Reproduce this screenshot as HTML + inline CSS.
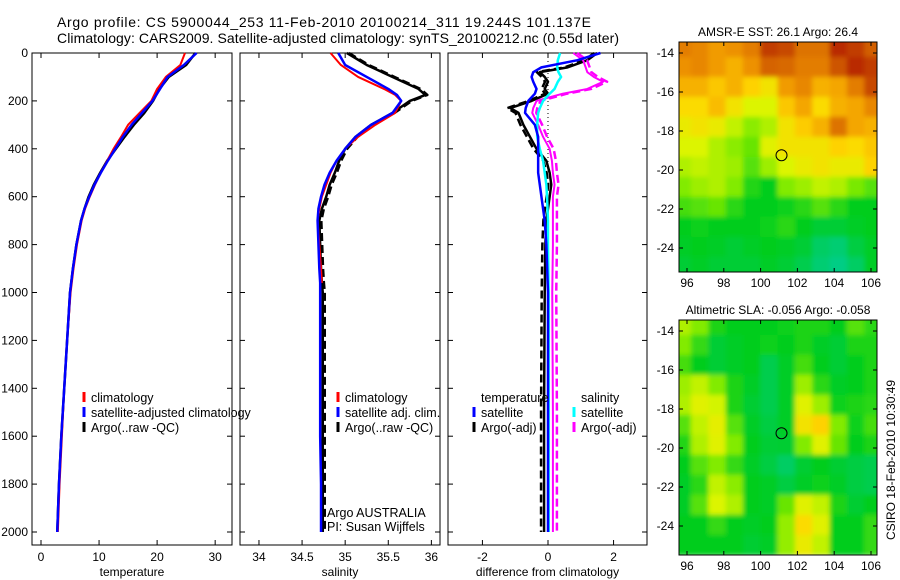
<!DOCTYPE html>
<html><head><meta charset="utf-8"><title>Argo profile</title>
<style>
html,body{margin:0;padding:0;background:#fff;}
svg{display:block;font-family:"Liberation Sans",sans-serif;}
text{font-size:12px;fill:#000;}
</style></head>
<body>
<svg id="fig" width="900" height="580" viewBox="0 0 900 580" xmlns="http://www.w3.org/2000/svg">
<defs>
<filter id="blur" x="-5%" y="-5%" width="110%" height="110%"><feGaussianBlur stdDeviation="2.5"/></filter>
<clipPath id="clip1"><rect x="679" y="42" width="198" height="230"/></clipPath>
<clipPath id="clip2"><rect x="679" y="320" width="198" height="235"/></clipPath>
</defs>
<text x="57" y="27" style="font-size:14px" textLength="534">Argo profile: CS 5900044_253 11-Feb-2010 20100214_311 19.244S 101.137E</text>
<text x="57" y="43" style="font-size:14px" textLength="562">Climatology: CARS2009. Satellite-adjusted climatology: synTS_20100212.nc (0.55d later)</text>
<g id="plots"></g>
<text transform="translate(895,460) rotate(-90)" text-anchor="middle">CSIRO 18-Feb-2010 10:30:49</text>
</svg>
<script>
// ---------- DATA ----------
const depths = [0,50,100,150,200,250,300,350,400,450,500,550,600,650,700,800,900,1000,1200,1400,1600,1800,2000];
const tempClim = [24.8,24.0,21.5,20.0,19.0,17.0,15.0,13.8,12.5,11.4,10.3,9.3,8.4,7.6,7.0,6.2,5.6,5.1,4.5,4.0,3.6,3.2,2.9];
const tempSat  = [26.8,24.6,21.8,20.5,19.2,17.4,15.6,14.1,12.8,11.5,10.3,9.2,8.3,7.5,6.9,6.1,5.5,5.0,4.5,4.0,3.5,3.1,2.8];
const tempArgo = [26.6,25.0,22.0,20.4,19.3,17.8,16.0,14.4,12.9,11.4,10.2,9.1,8.2,7.5,6.9,6.1,5.5,5.0,4.5,4.0,3.5,3.1,2.8];
const salDepths = [0,50,100,150,175,200,250,300,350,400,450,500,550,600,650,700,800,900,960,1000,1200,1400,1600,1800,2000];
const salClim = [34.83,34.95,35.15,35.45,35.58,35.65,35.58,35.35,35.15,35.0,34.9,34.83,34.78,34.73,34.70,34.68,34.70,34.72,34.73,null,null,null,null,null,null];
const salSat  = [34.92,35.0,35.25,35.5,35.6,35.65,35.55,35.3,35.12,35.0,34.9,34.82,34.76,34.72,34.69,34.68,34.69,34.70,34.71,34.71,34.71,34.71,34.71,34.72,34.72];
const salArgo = [35.02,35.25,35.55,35.85,35.93,35.75,35.55,35.3,35.12,35.0,34.93,34.88,34.82,34.78,34.73,34.70,34.71,34.72,34.73,34.74,34.74,34.74,34.74,34.74,34.74];
const diffDepths = [0,30,60,80,100,120,150,170,200,230,250,300,350,400,450,500,550,600,700,800,1000,1500,2000];
const dTempSat  = [1.6,0.9,-0.2,-0.45,-0.5,-0.45,-0.35,-0.4,-0.6,-0.68,-0.7,-0.4,-0.3,-0.3,-0.3,-0.3,-0.25,-0.2,-0.1,-0.05,0,0,0.0];
const dTempArgo = [1.5,1.2,0.6,-0.25,-0.1,0.0,-0.1,0.0,-0.5,-1.15,-0.9,-0.75,-0.55,-0.35,-0.05,0.05,0.1,0.05,-0.05,-0.08,-0.1,-0.12,-0.12];
const dSalSat   = [0.37,0.3,0.28,0.32,0.4,0.3,0.2,0.05,-0.15,-0.25,-0.3,-0.33,-0.33,-0.25,-0.15,-0.1,-0.05,-0.03,0,0,0.02,0.02,0.02];
const dSalArgo  = [0.77,1.07,1.15,1.2,1.4,1.68,1.2,0.45,-0.35,-0.45,-0.48,-0.3,-0.15,0.05,0.12,0.15,0.2,0.15,0.15,0.15,0.13,0.15,0.15];
const depthTicks = [0,200,400,600,800,1000,1200,1400,1600,1800,2000];
const tempTicks = [0,10,20,30];
const salTicks = [34,34.5,35,35.5,36];
const diffTicks = [-2,0,2];
const lonTicks = [96,98,100,102,104,106];
const latTicks = [-14,-16,-18,-20,-22,-24];
const sstGrid = [
[.8,.78,.74,.76,.8,.92,.9,.82,.82,.95,.92,.86],
[.76,.78,.74,.7,.76,.85,.84,.8,.8,.88,.95,.92],
[.7,.7,.66,.7,.64,.6,.74,.78,.7,.72,.8,.9],
[.62,.62,.68,.6,.55,.55,.66,.72,.62,.7,.72,.78],
[.58,.6,.58,.52,.46,.5,.6,.65,.7,.82,.72,.7],
[.55,.55,.5,.46,.42,.56,.6,.6,.6,.64,.62,.66],
[.5,.52,.5,.48,.4,.48,.55,.58,.6,.58,.58,.64],
[.45,.48,.5,.45,.34,.3,.45,.48,.52,.5,.44,.4],
[.38,.4,.42,.35,.3,.3,.32,.35,.4,.35,.3,.3],
[.3,.32,.3,.3,.3,.32,.35,.3,.25,.25,.28,.3],
[.28,.3,.28,.25,.28,.3,.28,.25,.15,.12,.22,.28],
[.25,.28,.25,.25,.25,.28,.25,.2,.12,.08,.15,.28]];
const slaGrid = [
[.5,.45,.33,.3,.3,.3,.32,.33,.33,.3,.4,.35],
[.45,.36,.25,.28,.3,.32,.3,.33,.28,.25,.33,.33],
[.38,.3,.25,.28,.3,.2,.28,.38,.3,.25,.3,.33],
[.48,.52,.45,.33,.28,.2,.28,.48,.35,.28,.3,.33],
[.5,.56,.54,.33,.26,.2,.28,.56,.48,.32,.33,.35],
[.4,.52,.57,.4,.28,.22,.28,.6,.64,.45,.32,.38],
[.34,.5,.56,.45,.3,.25,.26,.45,.56,.42,.3,.33],
[.3,.4,.45,.36,.28,.22,.15,.26,.3,.26,.22,.2],
[.28,.35,.52,.46,.3,.28,.22,.28,.32,.28,.22,.2],
[.28,.4,.55,.5,.3,.28,.42,.56,.52,.33,.26,.3],
[.3,.3,.36,.3,.28,.3,.47,.62,.56,.3,.3,.36],
[.3,.3,.3,.3,.26,.28,.47,.58,.52,.3,.3,.36]];
const argoLon = 101.137, argoLat = -19.244;

// ---------- DRAW ----------
const NS='http://www.w3.org/2000/svg';
const root=document.getElementById('plots');
function mk(tag,attrs,parent){const e=document.createElementNS(NS,tag);for(const k in attrs)e.setAttribute(k,attrs[k]);(parent||root).appendChild(e);return e;}
const top0=53, bot=545, ppd=0.2395;
const yD = d => top0 + d*ppd;
const panels = [
 {x0:32,x1:232,v0:-1.55,v1:32.9,ticks:tempTicks,label:'temperature',name:'temperature'},
 {x0:240,x1:440,v0:33.78,v1:36.1,ticks:salTicks,label:'salinity',name:'salinity'},
 {x0:448,x1:647,v0:-3.05,v1:3.02,ticks:diffTicks,label:'difference from climatology',name:'difference'}];
panels.forEach(p=>{p.sx=v=>p.x0+(v-p.v0)/(p.v1-p.v0)*(p.x1-p.x0);});
panels.forEach((p,i)=>{
  let r=mk('rect',{x:p.x0,y:top0,width:p.x1-p.x0,height:bot-top0,fill:'none',stroke:'#000','stroke-width':1});
  
  
  p.ticks.forEach(t=>{const x=p.sx(t);
    mk('line',{x1:x,x2:x,y1:bot,y2:bot-5,stroke:'#000'});
    mk('line',{x1:x,x2:x,y1:top0,y2:top0+5,stroke:'#000'});
    const tx=mk('text',{x:x,y:561,'text-anchor':'middle'});tx.textContent=String(t);
    
    });
  depthTicks.forEach(d=>{const y=yD(d);
    mk('line',{x1:p.x0,x2:p.x0+5,y1:y,y2:y,stroke:'#000'});
    mk('line',{x1:p.x1,x2:p.x1-5,y1:y,y2:y,stroke:'#000'});
    if(i===0){const tx=mk('text',{x:28,y:y+4,'text-anchor':'end'});tx.textContent=String(d);
      
      }});
  const lab=mk('text',{x:(p.x0+p.x1)/2,y:576,'text-anchor':'middle'});lab.textContent=p.label;
  
  
});
{const p=panels[2];const l=mk('line',{x1:p.sx(0),x2:p.sx(0),y1:top0,y2:yD(500),stroke:'#000','stroke-dasharray':'1,3'});
 
 }
function series(p,ds,vals,color,w,dash,name,off){
  let pts=[];ds.forEach((d,k)=>{if(vals[k]!==null&&vals[k]!==undefined)pts.push(p.sx(vals[k])+(off||0)+','+yD(d));});
  const pl=mk('polyline',{points:pts.join(' '),fill:'none',stroke:color,'stroke-width':w,'stroke-dasharray':dash||'none','stroke-linejoin':'round'});
  
  
}
const [P1,P2,P3]=panels;
series(P1,depths,tempArgo,'#000',2.5,null,'temp-argo-line');
series(P1,depths,tempClim,'#f00',2,null,'temp-climatology-line');
series(P1,depths,tempSat,'#00f',2.5,null,'temp-satellite-line');
series(P2,salDepths,salArgo,'#000',2.5,null,'sal-argo-line');
series(P2,salDepths,salArgo,'#000',2.5,'8,4','sal-argo-raw-line',2);
series(P2,salDepths,salClim,'#f00',2,null,'sal-climatology-line');
series(P2,salDepths,salSat,'#00f',2.5,null,'sal-satellite-line');
series(P3,diffDepths,dTempArgo,'#000',2.5,null,'dtemp-argo-line');
series(P3,diffDepths,dTempArgo,'#000',2.5,'8,4','dtemp-argo-raw-line',-3);
series(P3,diffDepths,dSalArgo,'#f0f',2,null,'dsal-argo-line');
series(P3,diffDepths,dSalArgo,'#f0f',2.5,'8,4','dsal-argo-raw-line',4);
series(P3,diffDepths,dSalSat,'#0ff',2.5,null,'dsal-satellite-line');
series(P3,diffDepths,dTempSat,'#00f',2.5,null,'dtemp-satellite-line');
function legend(x,y,color,txt,name){
  if(color){const m=mk('line',{x1:x,x2:x,y1:y-10,y2:y,stroke:color,'stroke-width':3});
    
    }
  const t=mk('text',{x:x+7,y:y,style:'font-size:12.5px'});t.textContent=txt;
  
  
}
legend(84,402,'#f00','climatology','legend-entry-climatology');
legend(84,417,'#00f','satellite-adjusted climatology','legend-entry-satellite');
legend(84,432,'#000','Argo(..raw -QC)','legend-entry-argo');
legend(338,402,'#f00','climatology','legend-entry-sal-climatology');
legend(338,417,'#00f','satellite adj. clim.','legend-entry-sal-satellite');
legend(338,432,'#000','Argo(..raw -QC)','legend-entry-sal-argo');
legend(474,402,null,'temperature','legend-title-temperature');
legend(474,417,'#00f','satellite','legend-entry-dtemp-satellite');
legend(474,432,'#000','Argo(-adj)','legend-entry-dtemp-argo');
legend(574,402,null,'salinity','legend-title-salinity');
legend(574,417,'#0ff','satellite','legend-entry-dsal-satellite');
legend(574,432,'#f0f','Argo(-adj)','legend-entry-dsal-argo');
{const t=mk('text',{x:327,y:517,style:'font-size:12.5px'});t.textContent='Argo AUSTRALIA';
 
 
 const t2=mk('text',{x:327,y:531,style:'font-size:12.5px'});t2.textContent='PI: Susan Wijffels';
 
 }
const stops=[[0,[0,205,170]],[.3,[0,205,30]],[.45,[130,235,0]],[.55,[220,245,0]],[.63,[255,215,0]],[.75,[240,150,0]],[.88,[205,85,0]],[1,[170,10,0]]];
function cmap(v){for(let i=1;i<stops.length;i++){if(v<=stops[i][0]){const a=stops[i-1],b=stops[i];const t=(v-a[0])/(b[0]-a[0]);
  return 'rgb('+a[1].map((c,j)=>Math.round(c+(b[1][j]-c)*t)).join(',')+')';}}return 'rgb(170,10,0)';}
const lonX=lon=>687+(lon-96)*18.4;
function drawMap(grid,top,bottom,clip,title,name){
  const latY=lat=>top+11+(-14-lat)*19.5;
  const g=mk('g',{'clip-path':'url(#'+clip+')'});
  
  
  const inner=mk('g',{filter:'url(#blur)'},g);
  const rows=grid.length, cols=grid[0].length;
  const lon0=95.3, lon1=106.6, lat0=-13.2, lat1=-25.5;
  grid.forEach((row,r)=>row.forEach((v,c)=>{
    const xa=lonX(lon0+(lon1-lon0)*c/cols), xb=lonX(lon0+(lon1-lon0)*(c+1)/cols);
    const ya=latY(lat0+(lat1-lat0)*r/rows), yb=latY(lat0+(lat1-lat0)*(r+1)/rows);
    const cell=mk('rect',{x:xa-0.5,y:ya-0.5,width:xb-xa+1,height:yb-ya+1,fill:cmap(v)},inner);
    
    
  }));
  const lowEdge = clip==='clip1' ? 272 : 555;
  const b=mk('rect',{x:679,y:top,width:198,height:lowEdge-top,fill:'none',stroke:'#000'});
  
  
  lonTicks.forEach(l=>{const x=lonX(l);
    mk('line',{x1:x,x2:x,y1:lowEdge,y2:lowEdge-4,stroke:'#000'});
    mk('line',{x1:x,x2:x,y1:top,y2:top+4,stroke:'#000'});
    const t=mk('text',{x:x,y:lowEdge+15,'text-anchor':'middle'});t.textContent=String(l);
    
    });
  latTicks.forEach(l=>{const y=latY(l);
    mk('line',{x1:679,x2:683,y1:y,y2:y,stroke:'#000'});
    mk('line',{x1:877,x2:873,y1:y,y2:y,stroke:'#000'});
    const t=mk('text',{x:674,y:y+4,'text-anchor':'end'});t.textContent=String(l);
    
    });
  const c=mk('circle',{cx:lonX(argoLon),cy:latY(argoLat),r:5.5,fill:'none',stroke:'#000'});
  
  
  const t=mk('text',{x:778,y:top-6,'text-anchor':'middle'});t.textContent=title;
  
  
}
drawMap(sstGrid,42,272,'clip1','AMSR-E SST: 26.1 Argo: 26.4','sst-map');
drawMap(slaGrid,320,555,'clip2','Altimetric SLA: -0.056 Argo: -0.058','sla-map');
</script>
</body></html>
